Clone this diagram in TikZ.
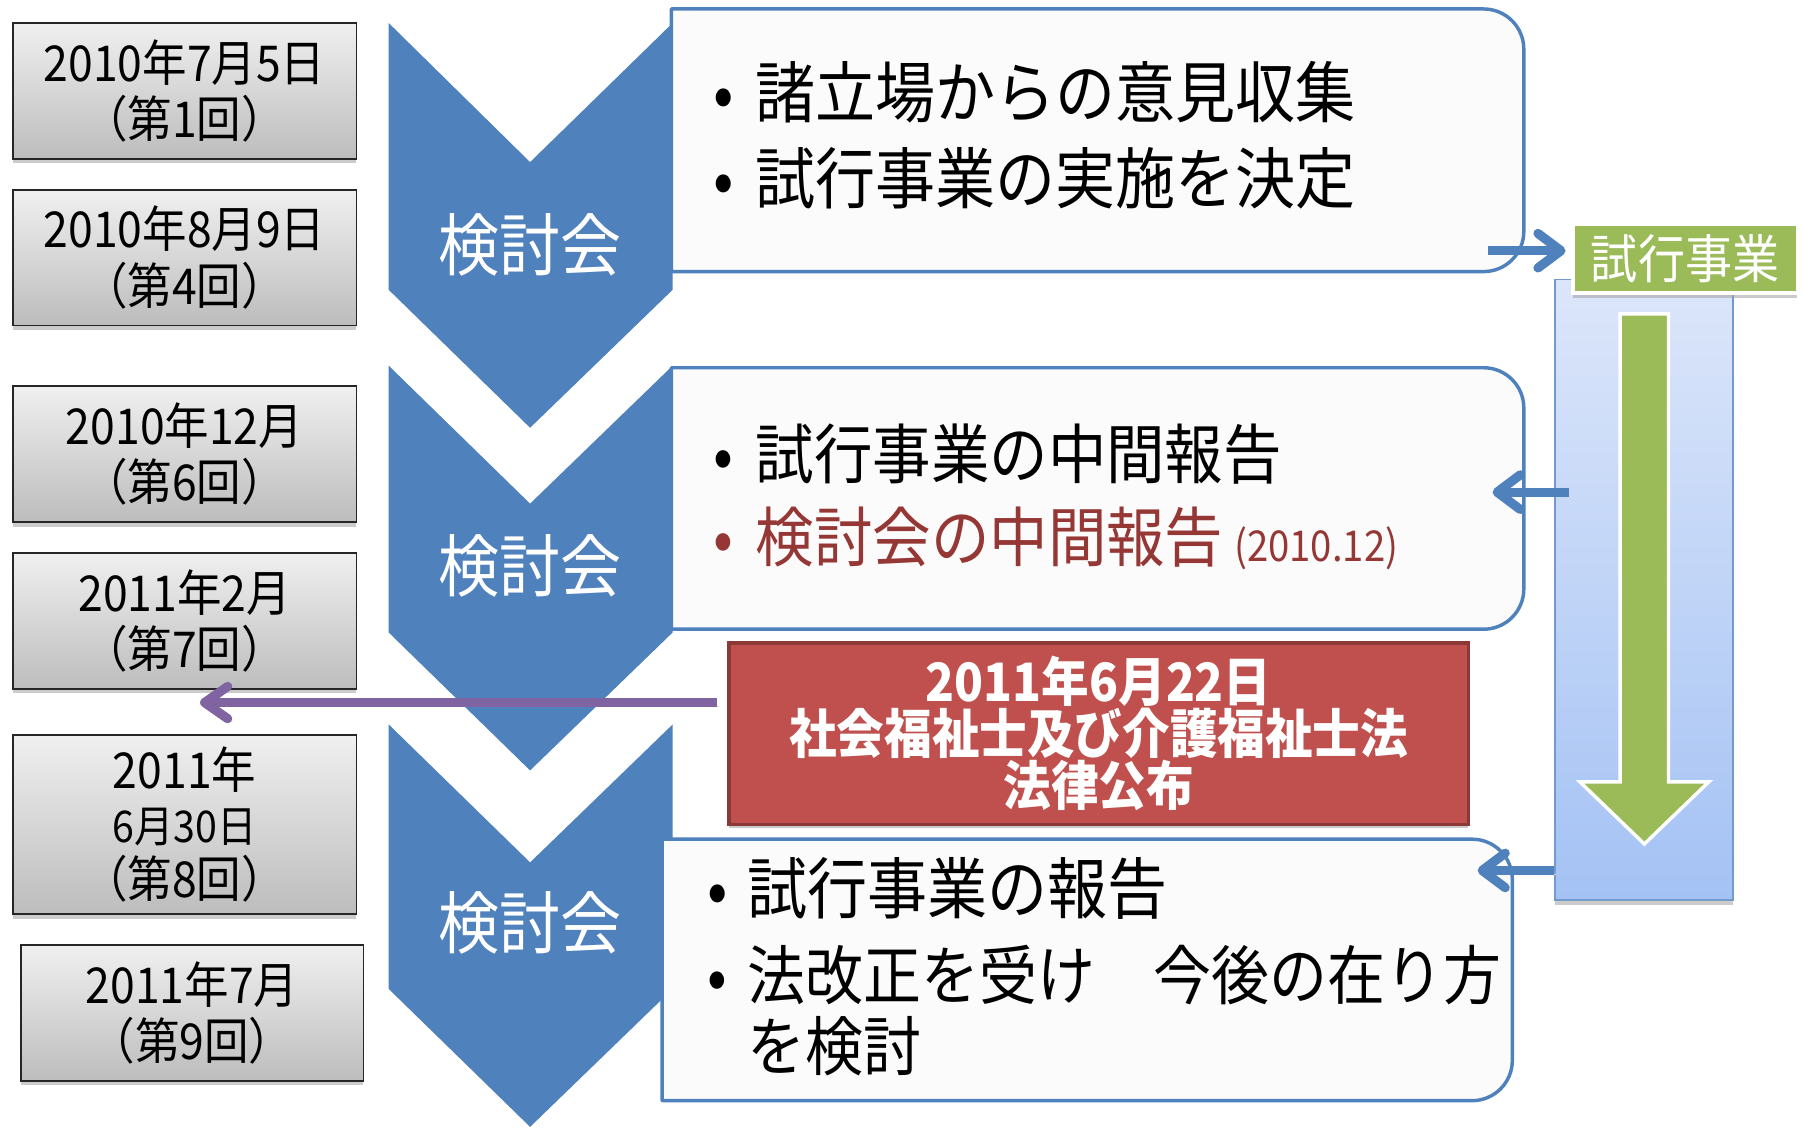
\documentclass[tikz,border=0pt]{standalone}
\usepackage{fontspec}
\setmainfont{Noto Sans CJK JP}[FakeStretch=0.9]
\usetikzlibrary{arrows.meta,shadows}
\definecolor{cblue}{HTML}{4F81BD}
\definecolor{cgreen}{HTML}{9BBB59}
\definecolor{cred}{HTML}{C0504D}
\definecolor{credb}{HTML}{8C3836}
\definecolor{cpurple}{HTML}{8064A2}
\definecolor{cdred}{HTML}{953735}
\definecolor{colTop}{HTML}{DCE6FA}
\definecolor{colBot}{HTML}{A4C2F4}
\definecolor{panelfill}{HTML}{FBFBFB}
\begin{document}
\begin{tikzpicture}[x=1pt,y=-1pt,
 datebox/.style={draw=black!85, line width=1.5pt, top color=black!6, bottom color=black!26,
   minimum width=299pt, minimum height=118pt, inner sep=0pt, align=center,
   font=\fontsize{43}{49}\selectfont,
   drop shadow={shadow xshift=0pt, shadow yshift=-4pt, fill=black!40, opacity=0.5}},
 chev/.style={fill=cblue},
 chevtext/.style={text=white, font=\fontsize{59}{60}\selectfont, inner sep=0pt},
 panel/.style={inner sep=0pt, draw=none},
 panelline/.style={draw=cblue, line width=3pt, fill=panelfill, line join=round},
 bul/.style={anchor=west, inner sep=0pt, font=\fontsize{58}{62}\selectfont, align=left},
 redbox/.style={fill=cred, draw=credb, line width=3pt, minimum width=643pt, minimum height=158pt,
   inner sep=0pt, align=center, text=white, font=\bfseries\fontsize{46}{45}\selectfont,
   drop shadow={shadow xshift=0pt, shadow yshift=-3pt, fill=black!40, opacity=0.5}},
 colbox/.style={top color=colTop, bottom color=colBot, draw=cblue!80, line width=1.5pt,
   minimum width=155pt, minimum height=540pt, inner sep=0pt,
   drop shadow={shadow xshift=0pt, shadow yshift=-4pt, fill=black!40, opacity=0.5}},
 trialbox/.style={fill=cgreen, draw=white, line width=3pt, minimum width=195pt, minimum height=60pt,
   inner sep=0pt, text=white, font=\fontsize{45.5}{46}\selectfont,
   drop shadow={shadow xshift=0pt, shadow yshift=-4pt, fill=black!40, opacity=0.5}},
 barrow/.style={draw=cblue, line width=8pt, -{Straight Barb[round,length=20pt,width=30pt]},
   preaction={draw=black!15, transform canvas={xshift=2pt,yshift=-3pt}}},
 parrow/.style={draw=cpurple, line width=8pt, -{Straight Barb[round,length=20pt,width=28pt]},
   preaction={draw=black!15, transform canvas={xshift=2pt,yshift=-3pt}}}
]
\useasboundingbox (0,0) rectangle (1568,981);
\fill[white] (0,0) rectangle (1568,981);

% date boxes
\node[datebox] (d1) at (160.5,79) {2010年7月5日\\（第1回）};
\node[datebox] (d2) at (160.5,224) {2010年8月9日\\（第4回）};
\node[datebox] (d3) at (160.5,395) {2010年12月\\（第6回）};
\node[datebox] (d4) at (160.5,540) {2011年2月\\（第7回）};
\node[datebox, minimum height=156pt, font=\fontsize{43}{47}\selectfont] (d5) at (160.5,717)
  {2011年\\{\fontsize{38}{47}\selectfont 6月30日}\\（第8回）};
\node[datebox, minimum width=298pt] (d6) at (167,881) {2011年7月\\（第9回）};

% chevrons
\fill[chev] (338,20) -- (461,141) -- (585,20) -- (585,252) -- (461,372) -- (338,252) -- cycle;
\fill[chev] (338,318) -- (461,438) -- (585,318) -- (585,550) -- (461,670) -- (338,550) -- cycle;
\fill[chev] (338,630) -- (461,750) -- (585,630) -- (585,860) -- (461,980) -- (338,860) -- cycle;
\node[chevtext] (k1) at (461,213) {検討会};
\node[chevtext] (k2) at (461,492) {検討会};
\node[chevtext] (k3) at (461,803) {検討会};

% panels
\node[panel, minimum width=741pt, minimum height=228pt] (b1) at (954.5,122) {};
\node[panel, minimum width=741pt, minimum height=227pt] (b2) at (954.5,433.5) {};
\node[panel, minimum width=739pt, minimum height=227pt] (b3) at (945.5,843.5) {};
\foreach \b in {b1,b2,b3}{
  \draw[panelline] (\b.north west) -- ([xshift=-35pt]\b.north east)
    arc[start angle=90,end angle=0,radius=35pt] -- ([yshift=35pt]\b.south east)
    arc[start angle=0,end angle=-90,radius=35pt] -- (\b.south west) -- cycle;
}
\node[bul] (t11) at (620,80) {\makebox[37pt][l]{•}諸立場からの意見収集};
\node[bul] (t12) at (620,155) {\makebox[37pt][l]{•}試行事業の実施を決定};
\node[bul, font=\fontsize{56.5}{62}\selectfont] (t21) at (620,395) {\makebox[37pt][l]{•}試行事業の中間報告};
\node[bul, text=cdred, font=\fontsize{56.5}{62}\selectfont] (t22) at (620,468) {\makebox[37pt][l]{•}検討会の中間報告\,{\fontsize{37}{37}\selectfont(2010.12)}};
\node[bul] (t31) at (615,773) {\makebox[35pt][l]{•}試行事業の報告};
\node[bul, font=\fontsize{56}{62}\selectfont] (t32) at (615,879) {\makebox[35pt][l]{•}法改正を受け　今後の在り方\\\hspace*{35pt}を検討};

% law box
\node[redbox] (law) at (955.5,638) {2011年6月22日\\社会福祉士及び介護福祉士法\\法律公布};
\coordinate (p1) at (174,611);
\draw[parrow] ([xshift=-9pt]law.west |- p1) -- (p1);

% trial column
\node[colbox] (col) at (1429.5,513) {};
\filldraw[fill=cgreen, draw=white, line width=3pt, line join=miter]
  (1409,273) -- (1451,273) -- (1451,680) -- (1486,680) -- (1430,734) -- (1374,680) -- (1409,680) -- cycle;
\node[trialbox] (trial) at (1465.5,225) {試行事業};

% small arrows
\coordinate (a1) at (1294,218);
\draw[barrow] (a1) -- ([xshift=-5pt]a1 -| trial.west);
\coordinate (a2) at (1298,428);
\draw[barrow] ([xshift=13pt]a2 -| col.west) -- (a2);
\coordinate (a3) at (1285,757);
\draw[barrow] (a3 -| col.west) -- (a3);
\end{tikzpicture}
\end{document}
